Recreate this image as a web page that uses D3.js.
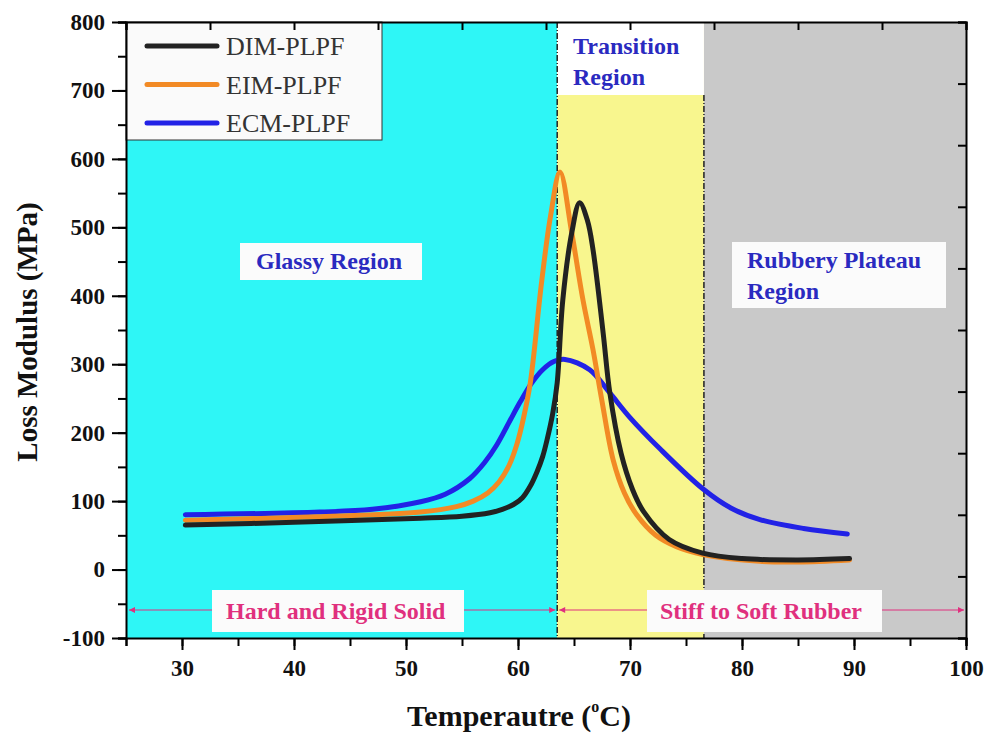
<!DOCTYPE html>
<meta charset="utf-8">
<head>
<script src="https://d3js.org/d3.v7.min.js"></script>
<style>
body { margin: 0; background: #fff; }
text { font-family: 'Liberation Serif', 'Times New Roman', serif; }
.tick-lbl { font-size: 23px; font-weight: bold; fill: #111; font-family: 'Liberation Serif', serif; }
.region { font-size: 24px; font-weight: bold; fill: #2a2ac0; }
.phase { font-size: 24px; font-weight: bold; fill: #e0307e; }
</style>
</head>
<body>
<svg width="991" height="736"></svg>
<script>

// data
const dimT = [30.3, 40, 51.3, 55, 57.5, 58.6, 59.6, 60.4, 61.1, 61.7, 62.2, 62.6, 63.1, 63.5, 64.0, 64.8, 65.5, 66.2, 66.7, 67.6, 68.2, 69.2, 70.2, 71.2, 73.5, 76.5, 80, 85, 89.6];
const dimV = [65, 69, 75, 78, 83, 88, 95, 105, 122, 143, 165, 190, 228, 273, 394, 492, 536, 510, 467, 346, 258, 170, 118, 85, 44, 24, 16, 14, 16];

const eimT = [30.3, 42, 51.3, 54.5, 56, 57.3, 58.3, 59.2, 59.9, 60.5, 61.1, 62.1, 62.9, 63.75, 64.8, 65.8, 66.7, 67.5, 68.5, 69.5, 70.6, 72.3, 74.2, 76.5, 81.6, 85, 89.6];
const eimV = [72, 77, 84, 92, 100, 112, 128, 152, 183, 222, 273, 419, 516, 581, 492, 394, 321, 246, 160, 112, 80, 50, 33, 22, 12, 11, 14];

const ecmT = [30.3, 42.3, 47, 51.3, 53.5, 55.7, 57, 58.1, 59.2, 60.2, 61.2, 62.2, 63.2, 64.2, 66.4, 68.2, 70, 72.7, 76.5, 79, 81.6, 85.5, 89.4];
const ecmV = [80, 84, 88, 99, 110, 133, 156, 182, 215, 245, 272, 292, 304, 307, 292, 258, 222, 176, 118, 90, 73, 60, 52];

const seriesNames = ['DIM-PLPF', 'EIM-PLPF', 'ECM-PLPF'];
const seriesColors = ['#222222', '#f28a25', '#2222e6'];

const xTicks = [30, 40, 50, 60, 70, 80, 90, 100];
const yTicks = [-100, 0, 100, 200, 300, 400, 500, 600, 700, 800];

// regions (temperature bounds)
const glassyEnd = 63.5;
const transitionEnd = 76.6;

const svg = d3.select('svg');
const pL = 126, pR = 966, pT = 22, pB = 638;

const x = d3.scaleLinear().domain([25, 100]).range([pL, pR]);
const y = d3.scaleLinear().domain([-100, 800]).range([pB, pT]);

const hyphen = d => d < 0 ? '-' + Math.abs(d) : String(d);

// coloured regions
svg.append('rect')
    .attr('x', x(25)).attr('y', y(800))
    .attr('width', x(glassyEnd) - x(25)).attr('height', y(-100) - y(800))
    .attr('fill', '#2ef6f6');
svg.append('rect')
    .attr('x', x(glassyEnd)).attr('y', y(800))
    .attr('width', x(transitionEnd) - x(glassyEnd)).attr('height', y(-100) - y(800))
    .attr('fill', '#f8f68e');
svg.append('rect')
    .attr('x', x(transitionEnd)).attr('y', y(800))
    .attr('width', x(100) - x(transitionEnd)).attr('height', y(-100) - y(800))
    .attr('fill', '#c9c9c9');

// white boxes
svg.append('rect').attr('x', x(glassyEnd)).attr('y', y(800))
    .attr('width', x(transitionEnd) - x(glassyEnd)).attr('height', 73).attr('fill', '#fff');
svg.append('rect').attr('x', pL).attr('y', pT)
    .attr('width', 256).attr('height', 118).attr('fill', '#fafafa')
    .attr('stroke', '#333').attr('stroke-width', 1);

// dash-dot separators
svg.append('line').attr('x1', x(glassyEnd)).attr('x2', x(glassyEnd))
    .attr('y1', pT).attr('y2', pB)
    .attr('stroke', '#222').attr('stroke-width', 1.5).attr('stroke-dasharray', '6,2,1,2');
svg.append('line').attr('x1', x(transitionEnd)).attr('x2', x(transitionEnd))
    .attr('y1', pT + 73).attr('y2', pB)
    .attr('stroke', '#222').attr('stroke-width', 1.5).attr('stroke-dasharray', '6,2,1,2');

// region labels
function labelBox(bx, by, bw, bh) {
    svg.append('rect').attr('x', bx).attr('y', by).attr('width', bw).attr('height', bh).attr('fill', '#fbfbfb');
}
labelBox(240, 243, 182, 37);
svg.append('text').attr('class', 'region').attr('x', 256).attr('y', 269).text('Glassy Region');

svg.append('text').attr('class', 'region').attr('x', 573).attr('y', 54).text('Transition');
svg.append('text').attr('class', 'region').attr('x', 573).attr('y', 85).text('Region');

labelBox(732, 242, 214, 66);
svg.append('text').attr('class', 'region').attr('x', 747).attr('y', 268).text('Rubbery Plateau');
svg.append('text').attr('class', 'region').attr('x', 747).attr('y', 299).text('Region');

// phase arrows
const arrowY = 610;
svg.append('defs').append('marker')
    .attr('id', 'arr').attr('viewBox', '0 0 10 10')
    .attr('refX', 10).attr('refY', 5)
    .attr('markerWidth', 8).attr('markerHeight', 6)
    .attr('orient', 'auto-start-reverse')
    .append('path').attr('d', 'M0,0L10,5L0,10z').attr('fill', '#e0307e');
svg.append('line').attr('x1', pL + 3).attr('x2', x(glassyEnd) - 2)
    .attr('y1', arrowY).attr('y2', arrowY)
    .attr('stroke', '#e0307e').attr('stroke-width', 1)
    .attr('marker-start', 'url(#arr)').attr('marker-end', 'url(#arr)');
svg.append('line').attr('x1', x(glassyEnd) + 2).attr('x2', pR - 2)
    .attr('y1', arrowY).attr('y2', arrowY)
    .attr('stroke', '#e0307e').attr('stroke-width', 1)
    .attr('marker-start', 'url(#arr)').attr('marker-end', 'url(#arr)');

labelBox(212, 590, 252, 42);
svg.append('text').attr('class', 'phase').attr('x', 226).attr('y', 619).text('Hard and Rigid Solid');
labelBox(647, 590, 235, 42);
svg.append('text').attr('class', 'phase').attr('x', 660).attr('y', 619).text('Stiff to Soft Rubber');

// curves
const line = d3.line()
    .x(d => x(d[0]))
    .y(d => y(d[1]))
    .curve(d3.curveCatmullRom.alpha(0.5));

const series = [
    dimT.map((t, i) => [t, dimV[i]]),
    eimT.map((t, i) => [t, eimV[i]]),
    ecmT.map((t, i) => [t, ecmV[i]])
];
// blue first, then orange, black on top like the reference
[2, 1, 0].forEach(i => {
    svg.append('path')
        .datum(series[i])
        .attr('d', line)
        .attr('fill', 'none')
        .attr('stroke', seriesColors[i])
        .attr('stroke-width', 5)
        .attr('stroke-linecap', 'round');
});

// legend
seriesNames.forEach((n, i) => {
    const ly = 46 + i * 38.5;
    svg.append('line').attr('x1', 147).attr('x2', 217).attr('y1', ly).attr('y2', ly)
        .attr('stroke', seriesColors[i]).attr('stroke-width', 5).attr('stroke-linecap', 'round');
    svg.append('text').attr('x', 226).attr('y', ly + 9)
        .attr('font-size', 26).attr('fill', '#333').text(n);
});

// axes
svg.append('g')
    .attr('transform', `translate(0,${pB})`)
    .call(d3.axisBottom(x).tickValues(d3.range(25, 101, 5)).tickSize(8).tickFormat(''))
    .call(g => g.select('.domain').attr('stroke-width', 2))
    .call(g => g.selectAll('.tick line').attr('stroke-width', 2));
svg.append('g')
    .attr('transform', `translate(0,${pB})`)
    .call(d3.axisBottom(x).tickValues(xTicks).tickSize(12).tickPadding(10))
    .call(g => g.select('.domain').remove())
    .call(g => g.selectAll('.tick line').attr('stroke-width', 2))
    .call(g => g.selectAll('.tick text').attr('class', 'tick-lbl'));

svg.append('g')
    .attr('transform', `translate(${pL},0)`)
    .call(d3.axisLeft(y).tickValues(d3.range(-100, 801, 50)).tickSize(8).tickFormat(''))
    .call(g => g.select('.domain').attr('stroke-width', 2))
    .call(g => g.selectAll('.tick line').attr('stroke-width', 2));
svg.append('g')
    .attr('transform', `translate(${pL},0)`)
    .call(d3.axisLeft(y).tickValues(yTicks).tickSize(14).tickPadding(7).tickFormat(hyphen))
    .call(g => g.select('.domain').remove())
    .call(g => g.selectAll('.tick line').attr('stroke-width', 2))
    .call(g => g.selectAll('.tick text').attr('class', 'tick-lbl'));

// top and right axes, inward ticks
svg.append('g')
    .attr('transform', `translate(0,${pT})`)
    .call(d3.axisTop(x).tickValues(d3.range(25, 100.1, 7.5)).tickSize(-8).tickFormat(''))
    .call(g => g.select('.domain').attr('stroke-width', 2))
    .call(g => g.selectAll('.tick line').attr('stroke-width', 2));
svg.append('g')
    .attr('transform', `translate(${pR},0)`)
    .call(d3.axisRight(y).tickValues(d3.range(-100, 800.1, 90)).tickSize(-8).tickFormat(''))
    .call(g => g.select('.domain').attr('stroke-width', 2))
    .call(g => g.selectAll('.tick line').attr('stroke-width', 2));

// axis titles
const xt = svg.append('text').attr('x', 519).attr('y', 726)
    .attr('text-anchor', 'middle').attr('font-size', 30).attr('font-weight', 'bold').attr('fill', '#111');
xt.append('tspan').text('Temperautre (');
xt.append('tspan').attr('font-size', 16).attr('dy', -14).text('o');
xt.append('tspan').attr('dy', 14).text('C)');

svg.append('text')
    .attr('transform', 'translate(37,332) rotate(-90)')
    .attr('text-anchor', 'middle').attr('font-size', 29).attr('font-weight', 'bold').attr('fill', '#111')
    .text('Loss Modulus (MPa)');

</script>
</body>
